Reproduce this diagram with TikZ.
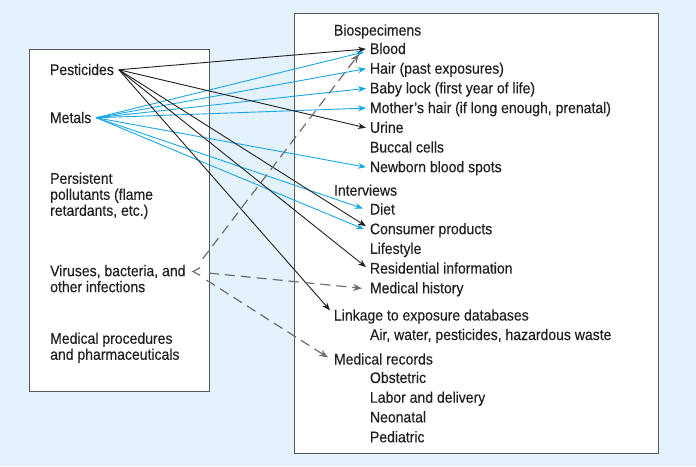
\documentclass[tikz,border=0pt]{standalone}
\usepackage{fontspec}
\setmainfont{Liberation Sans}[FakeStretch=0.91,FakeBold=0.25]
\usetikzlibrary{arrows.meta,calc}
\definecolor{bgblue}{HTML}{E3F2FB}
\definecolor{ink}{HTML}{231F20}
\definecolor{cyanline}{HTML}{1AA7E6}
\definecolor{dashgray}{HTML}{6D6E70}
\definecolor{boxgray}{HTML}{58595B}
\begin{document}
\begin{tikzpicture}[x=1pt,y=-1pt,
  every node/.style={font=\fontsize{15.4}{16}\selectfont, text=ink, inner sep=0pt},
  item/.style={anchor=base west, text height=10pt, text depth=0pt, outer xsep=4pt},
  src/.style={anchor=base west, text height=10.5pt, text depth=0pt, outer xsep=5pt},
  block/.style={anchor=north west, align=left},
  frame/.style={draw=boxgray, fill=white, line width=1.1pt, anchor=north west},
  blk/.style={draw=ink, line width=0.9pt, -{Stealth[length=8pt,width=6pt]}},
  cyn/.style={draw=cyanline, line width=0.9pt, -{Stealth[length=8pt,width=6pt]}},
  dsh/.style={draw=dashgray, line width=1.2pt, dash pattern=on 10pt off 6pt, shorten <=16pt, -{Stealth[length=9pt,width=7pt]}},
]
\useasboundingbox (0,0) rectangle (696,466);
\fill[bgblue] (0,0) rectangle (696,466);

% frames
\node[frame, minimum width=180pt, minimum height=342pt] (lframe) at (29,49) {};
\node[frame, minimum width=364pt, minimum height=440pt] (rframe) at (294,13) {};

% left column
\node[src] (pest) at (45,75) {Pesticides};
\node[src] (metals) at (45,123) {Metals};
\node[block] (pers) at (50,172.4) {Persistent\\pollutants (flame\\retardants, etc.)};
\node[block] (vir) at (50,264.8) {Viruses, bacteria, and\\other infections};
\node[block] (medproc) at (50,332.4) {Medical procedures\\and pharmaceuticals};
\coordinate (vp) at (193,271.5);

% right column
\node[item] (bio) at (330,35.5) {Biospecimens};
\node[item] (blood) at (366,54) {Blood};
\node[item] (hair) at (366,73.7) {Hair (past exposures)};
\node[item] (baby) at (366,93.4) {Baby lock (first year of life)};
\node[item] (mhair) at (366,113.1) {Mother’s hair (if long enough, prenatal)};
\node[item] (urine) at (366,132.8) {Urine};
\node[item] (buccal) at (366,152.5) {Buccal cells};
\node[item] (newborn) at (366,172.2) {Newborn blood spots};
\node[item] (interv) at (330,195.7) {Interviews};
\node[item] (diet) at (366,214.5) {Diet};
\node[item] (consumer) at (366,234.2) {Consumer products};
\node[item] (lifestyle) at (366,253.9) {Lifestyle};
\node[item] (resid) at (366,273.6) {Residential information};
\node[item] (medh) at (366,293.3) {Medical history};
\node[item] (link) at (330,320.5) {Linkage to exposure databases};
\node[item] (air) at (366,340) {Air, water, pesticides, hazardous waste};
\node[item] (medrec) at (330,364.5) {Medical records};
\node[item] (obst) at (366,383) {Obstetric};
\node[item] (labor) at (366,402.7) {Labor and delivery};
\node[item] (neo) at (366,422.4) {Neonatal};
\node[item] (ped) at (366,442.3) {Pediatric};

% metals (cyan)
\draw[cyn] (metals.east) -- ($(blood.west)+(-2,3)$);
\draw[cyn] (metals.east) -- (hair.west);
\draw[cyn] (metals.east) -- (baby.west);
\draw[cyn] (metals.east) -- (mhair.west);
\draw[cyn] (metals.east) -- (newborn.west);
\draw[cyn] (metals.east) -- ($(diet.west)+(-3,-1)$);
\draw[cyn] (metals.east) -- ($(consumer.west)+(-2,0)$);

% pesticides (black)
\draw[blk] (pest.east) -- (blood.west);
\draw[blk] (pest.east) -- (urine.west);
\draw[blk] (pest.east) -- ($(consumer.west)+(0,-3)$);
\draw[blk] (pest.east) -- ($(resid.west)+(0,-1.5)$);
\draw[blk] (pest.east) -- (link.north west);

% viruses (dashed)
\draw[dsh] (vp) -- ($(blood.west)+(-7,5)$);
\draw[dsh] (vp) -- ($(medh.west)+(-4,0)$);
\draw[dsh] (vp) -- ($(medrec.west)+(-2,-2)$);
\draw[dashgray, line width=1.2pt] ($(vp)+(7,-3.8)$) -- (vp) -- ($(vp)+(7,3.8)$);
\end{tikzpicture}
\end{document}
